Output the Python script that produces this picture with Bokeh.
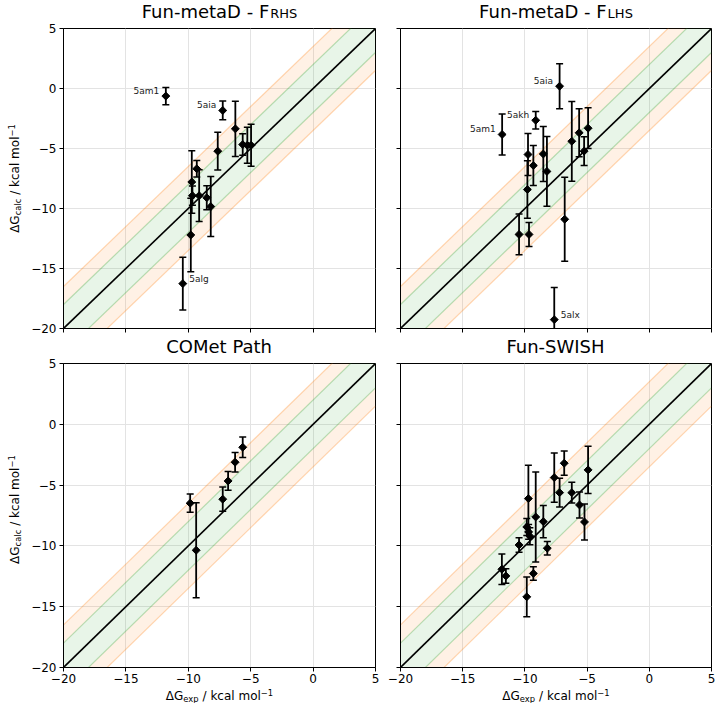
import math
from bokeh.plotting import figure
from bokeh.layouts import column, row
from bokeh.models import Label, FixedTicker, Range1d, CustomJSTickFormatter, ColumnDataSource
from bokeh.embed import file_html
from bokeh.resources import INLINE

# ---------------- data ----------------
TICKS = [-20, -15, -10, -5, 0, 5]
PARITY = [-20, 5]
INNER_BAND = 2.0
OUTER_BAND = 3.5

rhs_exp = [-11.80, -7.24, -6.23, -7.64, -5.64, -5.27, -4.97, -9.32, -9.72, -9.80, -9.67, -9.13, -8.52, -8.20, -10.44]
rhs_calc = [-0.63, -1.83, -3.36, -5.22, -4.67, -4.73, -4.73, -6.69, -7.79, -12.21, -8.93, -8.93, -9.10, -9.84, -16.26]
rhs_err = [0.72, 0.78, 2.30, 1.57, 0.90, 1.50, 1.75, 0.68, 2.60, 3.07, 0.80, 2.15, 1.00, 2.50, 2.20]
rhs_lab = ["5am1", "5aia", "5alg"]
rhs_lab_idx = [0, 1, 14]
rhs_lab_side = ["left", "left", "right"]

lhs_exp = [-7.21, -9.13, -11.83, -6.23, -5.64, -4.92, -5.24, -9.75, -9.32, -8.52, -8.23, -9.80, -10.47, -9.67, -6.80, -7.64]
lhs_calc = [0.19, -2.65, -3.83, -4.40, -3.69, -3.31, -5.22, -5.50, -6.42, -5.46, -6.91, -8.42, -12.16, -12.16, -10.90, -19.26]
lhs_err = [1.88, 0.73, 1.71, 3.32, 2.00, 1.70, 1.20, 1.75, 1.67, 2.30, 2.90, 2.40, 1.70, 1.00, 3.50, 2.68]
lhs_lab = ["5aia", "5akh", "5am1", "5alx"]
lhs_lab_idx = [0, 1, 2, 15]
lhs_lab_side = ["left", "left", "left", "right"]

com_exp = [-9.85, -9.37, -7.24, -6.81, -6.25, -5.64]
com_calc = [-6.49, -10.36, -6.16, -4.66, -3.12, -1.89]
com_err = [0.75, 3.90, 1.00, 0.77, 0.80, 0.85]

sw_exp = [-11.85, -11.53, -10.47, -9.85, -9.72, -9.85, -9.70, -9.60, -9.32, -9.13, -8.52, -8.20, -7.64, -7.21, -6.84, -6.23, -5.61, -5.21, -4.92]
sw_calc = [-11.92, -12.47, -9.92, -14.19, -6.11, -8.44, -8.85, -9.20, -12.27, -7.62, -8.00, -10.19, -4.38, -5.62, -3.20, -5.62, -6.63, -8.03, -3.75]
sw_err = [1.26, 0.60, 0.60, 1.63, 2.75, 0.70, 0.60, 0.70, 0.55, 3.70, 1.33, 0.55, 2.03, 1.18, 1.00, 0.85, 1.07, 1.48, 1.95]

titles = [("Fun-metaD - F", "RHS"), ("Fun-metaD - F", "LHS"), ("COMet Path", ""), ("Fun-SWISH", "")]

# ---------------- layout / styling ----------------
FONT = "DejaVu Sans"
FW1, FW2 = 312, 311
FH1, FH2 = 300, 304
YLAB_W = 23
L1_LEFT, L1_RIGHT = 40, 5
L2_LEFT, L2_RIGHT = 20, 4
TOP_B = 7
ROW1_BOTTOM, ROW2_BOTTOM = 7, 20
TITLE_H, XLAB_H = 21, 16
GREEN = "#2ca02c"
ORANGE = "#ff7f0e"
MID = 0.346  # em distance from the "middle" anchor down to the alphabetic baseline

# DejaVu Sans advance widths (per 1000 em) for composing sub/superscripts
W = {"F": 575, "u": 634, "n": 634, "-": 361, "m": 974, "e": 615, "t": 392, "a": 613, "D": 770,
     " ": 318, "/": 337, "k": 579, "c": 550, "l": 278, "o": 612, "p": 635, "x": 592, "G": 775,
     "H": 752, "R": 695, "S": 635, "L": 557, "\u0394": 684, "\u2212": 838, "1": 636,
     "C": 698, "O": 787, "M": 863, "P": 603, "W": 989, "I": 295, "h": 634}


def tw(s, size):
    return sum(W.get(ch, 600) for ch in s) * size / 1000.0


def composite(p, parts, x, y, vertical=False, color="black"):
    """parts: (text, size, baseline_shift, leading_space); centred on x (or y), baseline at y (or x)."""
    parts = [pt for pt in parts if pt[0]]
    total = sum(tw(t, s) + (tw(" ", s) if sp else 0) for t, s, sh, sp in parts)
    cur = -total / 2.0
    for t, s, sh, sp in parts:
        if sp:
            cur += tw(" ", s)
        up = sh + MID * s
        if vertical:
            lab = Label(x=x, y=y, x_offset=-up, y_offset=cur, angle=math.pi / 2,
                        text=t, text_font=FONT, text_font_size=f"{s}px", text_color=color,
                        text_align="left", text_baseline="middle")
        else:
            lab = Label(x=x, y=y, x_offset=cur, y_offset=up,
                        text=t, text_font=FONT, text_font_size=f"{s}px", text_color=color,
                        text_align="left", text_baseline="middle")
        p.add_layout(lab)
        cur += tw(t, s)


def strip(w, h):
    s = figure(width=w, height=h, x_range=Range1d(0, w), y_range=Range1d(0, h),
               output_backend="svg", toolbar_location=None, title=None,
               x_axis_location=None, y_axis_location=None, min_border=0)
    s.grid.visible = False
    s.outline_line_color = None
    s.background_fill_color = "white"
    s.border_fill_color = "white"
    return s


def panel(ex, calc, err, first_col, bottom_row, lab=None, lab_idx=None, lab_side=None):
    p = figure(frame_width=FW1 if first_col else FW2, frame_height=FH2 if bottom_row else FH1,
               x_range=Range1d(-20, 5), y_range=Range1d(-20, 5),
               output_backend="svg", toolbar_location=None, title=None,
               min_border_left=L1_LEFT if first_col else L2_LEFT,
               min_border_right=L1_RIGHT if first_col else L2_RIGHT,
               min_border_top=TOP_B,
               min_border_bottom=ROW2_BOTTOM if bottom_row else ROW1_BOTTOM)
    p.background_fill_color = "white"
    p.border_fill_color = "white"
    p.outline_line_color = "black"
    p.outline_line_width = 1
    p.outline_line_alpha = 1

    fmt = "return (tick < 0 ? '\\u2212' : '') + Math.abs(tick).toFixed(0);"
    for ax in (p.xaxis[0], p.yaxis[0]):
        ax.ticker = FixedTicker(ticks=TICKS)
        ax.formatter = CustomJSTickFormatter(code=fmt)
        ax.major_tick_in = 0
        ax.major_tick_out = 4
        ax.minor_tick_line_color = None
        ax.major_tick_line_color = "black"
        ax.axis_line_color = "black"
        ax.major_label_text_font = FONT
        ax.major_label_text_font_size = "12px"
        ax.major_label_text_color = "black"
    p.xaxis[0].major_label_standoff = 2
    p.yaxis[0].major_label_standoff = 3
    if not bottom_row:
        p.xaxis[0].major_label_text_font_size = "1px"
        p.xaxis[0].major_label_text_color = None
        p.xaxis[0].major_label_standoff = 0
    if not first_col:
        p.yaxis[0].major_label_text_font_size = "1px"
        p.yaxis[0].major_label_text_color = None
        p.yaxis[0].major_label_standoff = 0

    p.xgrid[0].ticker = FixedTicker(ticks=TICKS)
    p.ygrid[0].ticker = FixedTicker(ticks=TICKS)
    p.grid.grid_line_color = "#e3e3e3"
    p.grid.grid_line_width = 1

    # parity bands
    up_in = [d + INNER_BAND for d in PARITY]
    dn_in = [d - INNER_BAND for d in PARITY]
    up_out = [d + OUTER_BAND for d in PARITY]
    dn_out = [d - OUTER_BAND for d in PARITY]
    p.varea(x=PARITY, y1=dn_in, y2=up_in, fill_color=GREEN, fill_alpha=0.11)
    p.varea(x=PARITY, y1=up_in, y2=up_out, fill_color=ORANGE, fill_alpha=0.11)
    p.varea(x=PARITY, y1=dn_out, y2=dn_in, fill_color=ORANGE, fill_alpha=0.11)
    for yy, c in ((up_in, GREEN), (dn_in, GREEN), (up_out, ORANGE), (dn_out, ORANGE)):
        p.line(PARITY, yy, line_color=c, line_alpha=0.3, line_width=1.2)
    p.line(PARITY, PARITY, line_color="black", line_width=1.6)

    src = ColumnDataSource(dict(x=ex, y=calc,
                                lo=[c - e for c, e in zip(calc, err)],
                                hi=[c + e for c, e in zip(calc, err)]))
    p.segment(x0="x", y0="lo", x1="x", y1="hi", source=src, line_color="black", line_width=1.8)
    p.scatter(x="x", y="lo", source=src, marker="dash", size=7, line_color="black", line_width=1.5)
    p.scatter(x="x", y="hi", source=src, marker="dash", size=7, line_color="black", line_width=1.5)
    p.scatter(x="x", y="y", source=src, marker="square", angle=math.pi / 4, size=5.6,
              fill_color="black", line_color="black", line_width=1)

    if lab:
        for name, i, side in zip(lab, lab_idx, lab_side):
            p.add_layout(Label(x=ex[i], y=calc[i], text=name,
                               x_offset=-6.5 if side == "left" else 6.5, y_offset=5,
                               text_align="right" if side == "left" else "left",
                               text_baseline="middle", text_font=FONT, text_font_size="9px",
                               text_color="#1a1a1a"))
    return p


f1 = panel(rhs_exp, rhs_calc, rhs_err, True, False, rhs_lab, rhs_lab_idx, rhs_lab_side)
f2 = panel(lhs_exp, lhs_calc, lhs_err, False, False, lhs_lab, lhs_lab_idx, lhs_lab_side)
f3 = panel(com_exp, com_calc, com_err, True, True)
f4 = panel(sw_exp, sw_calc, sw_err, False, True)

COL1_W = YLAB_W + L1_LEFT + FW1 + L1_RIGHT
TOTAL_W = COL1_W + L2_LEFT + FW2 + L2_RIGHT
CX1 = YLAB_W + L1_LEFT + FW1 / 2.0
CX2 = COL1_W + L2_LEFT + FW2 / 2.0


def title_parts(i):
    main, sub = titles[i]
    return [(main, 18, 0, False), (sub, 13, -1.2, False)]


TITLE_BASE = TITLE_H - 16.75  # baseline height above strip bottom
t1 = strip(TOTAL_W, TITLE_H)
composite(t1, title_parts(0), CX1, TITLE_BASE)
composite(t1, title_parts(1), CX2, TITLE_BASE)
t2 = strip(TOTAL_W, TITLE_H)
composite(t2, title_parts(2), CX1, TITLE_BASE)
composite(t2, title_parts(3), CX2, TITLE_BASE)

ylab_parts = [("\u0394G", 12, 0, False), ("calc", 8.4, -2.2, False),
              ("/ kcal mol", 12, 0, True), ("\u22121", 8.4, 4.5, False)]
h1 = TOP_B + FH1 + ROW1_BOTTOM
h2 = TOP_B + FH2 + ROW2_BOTTOM
y1s = strip(YLAB_W, h1)
composite(y1s, ylab_parts, 18.3, h1 - TOP_B - FH1 / 2.0, vertical=True)
y2s = strip(YLAB_W, h2)
composite(y2s, ylab_parts, 18.3, h2 - TOP_B - FH2 / 2.0, vertical=True)

xl = strip(TOTAL_W, XLAB_H)
xlab_parts = [("\u0394G", 12, 0, False), ("exp", 8.4, -1.7, False),
              ("/ kcal mol", 12, 0, True), ("\u22121", 8.4, 4.5, False)]
composite(xl, xlab_parts, CX1, XLAB_H - 12.3)
composite(xl, xlab_parts, CX2, XLAB_H - 12.3)

layout = column(t1, row(y1s, f1, f2), t2, row(y2s, f3, f4), xl)
open("out.html", "w").write(file_html(layout, INLINE))
